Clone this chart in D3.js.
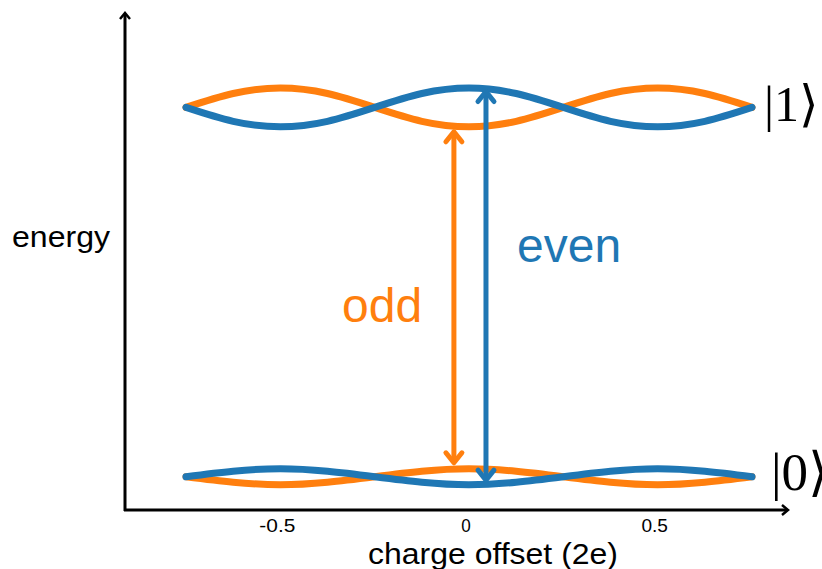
<!DOCTYPE html>
<html>
<head>
<meta charset="utf-8">
<script src="https://cdn.jsdelivr.net/npm/d3@7"></script>
<style>
  body { margin: 0; background: #fff; }
  text { font-family: "Liberation Sans", Arial, sans-serif; }
  .ket { font-family: "Liberation Serif", "DejaVu Serif", serif; }
</style>
</head>
<body>
<script>
// charge dispersion of a transmon, even / odd parity bands

// charge offset samples (2e)
var chargeOffset = [-0.75, -0.625, -0.5, -0.375, -0.25, -0.125, 0, 0.125, 0.25, 0.375, 0.5, 0.625, 0.75];

// energies (arbitrary units, 0 = axis)
var upperEven = [0.810, 0.782, 0.771, 0.782, 0.810, 0.838, 0.849, 0.838, 0.810, 0.782, 0.771, 0.782, 0.810];
var upperOdd  = [0.810, 0.838, 0.849, 0.838, 0.810, 0.782, 0.771, 0.782, 0.810, 0.838, 0.849, 0.838, 0.810];
var lowerEven = [0.067, 0.078, 0.083, 0.078, 0.067, 0.056, 0.051, 0.056, 0.067, 0.078, 0.083, 0.078, 0.067];
var lowerOdd  = [0.067, 0.056, 0.051, 0.056, 0.067, 0.078, 0.083, 0.078, 0.067, 0.056, 0.051, 0.056, 0.067];

// transition arrows: [charge offset, bottom energy, top energy]
var oddArrow  = [-0.04, 0.095, 0.761];
var evenArrow = [0.045, 0.060, 0.842];

var tickValues = [-0.5, 0, 0.5];
var tickLabels = ["-0.5", "0", "0.5"];

var orange = "#ff7f0e";
var blue = "#1f77b4";

//Width and height
var w = 822;
var h = 569;

var svg = d3.select("body")
    .append("svg")
    .attr("width", w)
    .attr("height", h);

var x = d3.scaleLinear().domain([-0.75, 0.75]).range([186, 752]);
var y = d3.scaleLinear().domain([0, 1]).range([510, 13]);

// axes with open arrow heads
var axes = svg.append("g")
    .attr("stroke", "#000")
    .attr("stroke-width", 3)
    .attr("fill", "none");

axes.append("path").attr("d", "M125,511V14");
axes.append("path").attr("d", "M124,510H787");
axes.append("path")
    .attr("stroke-width", 2.5)
    .attr("stroke-linejoin", "miter")
    .attr("d", "M120,19L125,13L130,19");
axes.append("path")
    .attr("stroke-width", 2.5)
    .attr("d", "M782,505L788,510L782,515");

// tick labels look a bit stretched sideways in the original
svg.selectAll(".tick")
    .data(tickValues)
    .enter()
    .append("text")
    .attr("class", "tick")
    .attr("x", function(d) { return x(d) - 3; })
    .attr("y", 532)
    .attr("text-anchor", "middle")
    .attr("font-size", 18)
    .attr("textLength", function(d, i) { return tickLabels[i].length * 9.5 - (tickLabels[i].length > 1 ? 2 : 0); })
    .attr("lengthAdjust", "spacingAndGlyphs")
    .text(function(d, i) { return tickLabels[i]; });

svg.append("text")
    .attr("x", 493)
    .attr("y", 564)
    .attr("text-anchor", "middle")
    .attr("font-size", 29)
    .attr("textLength", 250)
    .attr("lengthAdjust", "spacingAndGlyphs")
    .text("charge offset (2e)");

svg.append("text")
    .attr("x", 12)
    .attr("y", 247)
    .attr("font-size", 30)
    .attr("textLength", 98)
    .attr("lengthAdjust", "spacingAndGlyphs")
    .text("energy");

// bands
var line = d3.line()
    .x(function(d, i) { return x(chargeOffset[i]); })
    .y(function(d) { return y(d); })
    .curve(d3.curveNatural);

var bands = [
    { values: upperOdd, color: orange },
    { values: lowerOdd, color: orange },
    { values: upperEven, color: blue },
    { values: lowerEven, color: blue }
];

svg.selectAll(".band")
    .data(bands)
    .enter()
    .append("path")
    .attr("class", "band")
    .attr("fill", "none")
    .attr("stroke", function(d) { return d.color; })
    .attr("stroke-width", 7)
    .attr("stroke-linecap", "round")
    .attr("d", function(d) { return line(d.values); });

// double headed arrows
var drawArrow = function(a, color) {
    var ax = x(a[0]);
    var y0 = y(a[1]);
    var y1 = y(a[2]);
    var g = svg.append("g")
        .attr("stroke", color)
        .attr("stroke-width", 5)
        .attr("fill", "none")
        .attr("stroke-linecap", "round")
        .attr("stroke-linejoin", "round");
    g.append("line")
        .attr("x1", ax).attr("x2", ax)
        .attr("y1", y0 - 2).attr("y2", y1 + 2);
    g.append("path")
        .attr("d", "M" + (ax - 8) + "," + (y1 + 10) + "L" + ax + "," + y1 + "L" + (ax + 8) + "," + (y1 + 10));
    g.append("path")
        .attr("d", "M" + (ax - 8) + "," + (y0 - 10) + "L" + ax + "," + y0 + "L" + (ax + 8) + "," + (y0 - 10));
};

drawArrow(oddArrow, orange);
drawArrow(evenArrow, blue);

svg.append("text")
    .attr("x", 342)
    .attr("y", 322)
    .attr("font-size", 48)
    .attr("fill", orange)
    .text("odd");

svg.append("text")
    .attr("x", 517)
    .attr("y", 262)
    .attr("font-size", 48)
    .attr("fill", blue)
    .text("even");

// state labels
svg.append("text")
    .attr("class", "ket")
    .attr("x", 764)
    .attr("y", 121)
    .attr("font-size", 50)
    .text("|1\u27e9");

svg.append("text")
    .attr("class", "ket")
    .attr("x", 771)
    .attr("y", 490)
    .attr("font-size", 53)
    .text("|0\u27e9");
</script>
</body>
</html>
